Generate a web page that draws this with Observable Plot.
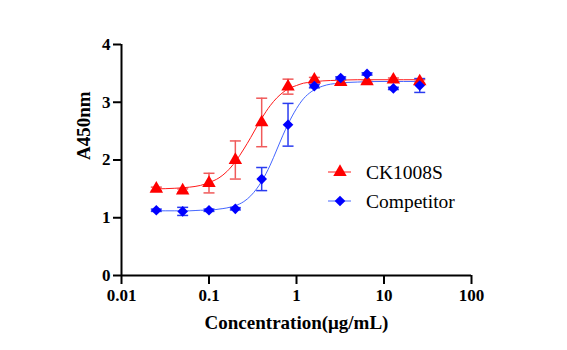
<!DOCTYPE html>
<html>
<head>
<meta charset="utf-8">
<script src="https://cdn.jsdelivr.net/npm/d3@7"></script>
<script src="https://cdn.jsdelivr.net/npm/@observablehq/plot@0.6"></script>
<style>
  html, body { margin: 0; padding: 0; background: #fff; }
  #chart svg text, #chart svg { font-family: "Liberation Serif", "Times New Roman", serif !important; }
</style>
</head>
<body>
<div id="chart"></div>
<script>
// Data
const conc = [0.025, 0.05, 0.1, 0.2, 0.4, 0.8, 1.6, 3.2, 6.4, 12.8, 25.6];
const ck = [1.50, 1.47, 1.60, 2.00, 2.65, 3.27, 3.39, 3.35, 3.36, 3.39, 3.36];
const ckErr = [0.03, 0.03, 0.17, 0.33, 0.42, 0.13, 0.04, 0.03, 0.03, 0.03, 0.03];
const comp = [1.13, 1.11, 1.13, 1.155, 1.67, 2.61, 3.28, 3.42, 3.49, 3.24, 3.29];
const compErr = [0.02, 0.07, 0.02, 0.02, 0.20, 0.37, 0.03, 0.02, 0.02, 0.02, 0.12];

// Fitted curves
const curveX = [0.025, 0.04, 0.06, 0.08, 0.1, 0.13, 0.16, 0.2, 0.25, 0.3, 0.35, 0.4, 0.5, 0.6, 0.7, 0.8, 1.0, 1.2, 1.5, 2, 3, 5, 10, 28];
const ckFit = [1.50, 1.51, 1.53, 1.56, 1.61, 1.69, 1.80, 1.97, 2.19, 2.39, 2.57, 2.72, 2.94, 3.08, 3.17, 3.23, 3.29, 3.33, 3.35, 3.37, 3.38, 3.39, 3.39, 3.39];
const compFit = [1.12, 1.12, 1.12, 1.13, 1.13, 1.15, 1.17, 1.21, 1.28, 1.38, 1.50, 1.63, 1.91, 2.19, 2.43, 2.62, 2.89, 3.06, 3.19, 3.28, 3.33, 3.35, 3.36, 3.36];

const xTicks = [0.01, 0.1, 1, 10, 100];
const yTicks = [0, 1, 2, 3, 4];
const seriesNames = ["CK1008S", "Competitor"];

const RED = "#ff0000", RED_ERR = "#f05a5a", RED_LINE = "#ff1a1a";
const BLUE = "#0000ff", BLUE_ERR = "#2a3cf0", BLUE_LINE = "#4466ff";

const data = conc.map((c, i) => ({c, ck: ck[i], ckE: ckErr[i], comp: comp[i], compE: compErr[i]}));
const fit = curveX.map((c, i) => ({c, ck: ckFit[i], comp: compFit[i]}));

const cap = {
  draw(context, size) {
    const w = Math.sqrt(size / Math.PI);
    context.moveTo(-w, 0);
    context.lineTo(w, 0);
  }
};

const serif = "Liberation Serif, Times New Roman, serif";

const svg = Plot.plot({
  width: 567,
  height: 350,
  marginLeft: 121,
  marginRight: 96,
  marginTop: 44,
  marginBottom: 75,
  style: {background: "#fff", color: "#000"},
  x: {type: "log", domain: [0.01, 100]},
  y: {domain: [0, 4]},
  marks: [
    Plot.axisY({ticks: yTicks, tickSize: 8, tickPadding: 3, strokeWidth: 2, stroke: "#000", fill: "#000", label: null,
      tickFormat: d => d.toString(), fontFamily: serif, fontSize: 17, fontWeight: "bold"}),
    Plot.axisX({ticks: xTicks, tickSize: 9, tickPadding: 4, strokeWidth: 2, stroke: "#000", fill: "#000", label: null,
      tickFormat: d => d.toString(), fontFamily: serif, fontSize: 17, fontWeight: "bold"}),
    Plot.ruleX([0.01], {y1: 0, y2: 4, strokeWidth: 2, stroke: "#000"}),
    Plot.ruleY([0], {x1: 0.01, x2: 100, strokeWidth: 2, stroke: "#000"}),
    Plot.text(["Concentration(μg/mL)"], {frameAnchor: "bottom", dy: 53, fontFamily: serif, fontSize: 19, fontWeight: "bold", fill: "#000"}),
    Plot.text(["A450nm"], {frameAnchor: "left", dx: -38, rotate: -90, fontFamily: serif, fontSize: 19, fontWeight: "bold", fill: "#000"}),
    // fitted curves
    Plot.line(fit, {x: "c", y: "ck", stroke: RED_LINE, strokeWidth: 1, curve: "monotone-x"}),
    Plot.line(fit, {x: "c", y: "comp", stroke: BLUE_LINE, strokeWidth: 1, curve: "monotone-x"}),
    // error bars
    Plot.ruleX(data, {x: "c", y1: d => d.ck - d.ckE, y2: d => d.ck + d.ckE, stroke: RED_ERR, strokeWidth: 1.5}),
    Plot.dot(data, {x: "c", y: d => d.ck + d.ckE, symbol: cap, r: 5.5, stroke: RED_ERR, strokeWidth: 1.5, fill: "none"}),
    Plot.dot(data, {x: "c", y: d => d.ck - d.ckE, symbol: cap, r: 5.5, stroke: RED_ERR, strokeWidth: 1.5, fill: "none"}),
    Plot.ruleX(data, {x: "c", y1: d => d.comp - d.compE, y2: d => d.comp + d.compE, stroke: BLUE_ERR, strokeWidth: 1.5}),
    Plot.dot(data, {x: "c", y: d => d.comp + d.compE, symbol: cap, r: 5.5, stroke: BLUE_ERR, strokeWidth: 1.5, fill: "none"}),
    Plot.dot(data, {x: "c", y: d => d.comp - d.compE, symbol: cap, r: 5.5, stroke: BLUE_ERR, strokeWidth: 1.5, fill: "none"}),
    // markers
    Plot.dot(data, {x: "c", y: "ck", symbol: "triangle", r: 5, fill: RED, stroke: "none"}),
    Plot.dot(data, {x: "c", y: "comp", symbol: "diamond2", r: 4.8, fill: BLUE, stroke: "none"})
  ]
});

// Legend drawn inside the plot area
const leg = d3.select(svg).append("g").attr("class", "legend");
const items = [
  {name: seriesNames[0], line: RED_LINE, fill: RED, sym: d3.symbolTriangle, size: Math.PI * 25},
  {name: seriesNames[1], line: BLUE_LINE, fill: BLUE, sym: d3.symbolDiamond2, size: Math.PI * 4.8 * 4.8}
];
items.forEach((it, i) => {
  const g = leg.append("g").attr("transform", `translate(340,${172 + i * 29})`);
  g.append("line").attr("x1", -12).attr("x2", 11).attr("stroke", it.line).attr("stroke-width", 1);
  g.append("path").attr("d", d3.symbol(it.sym, it.size)()).attr("fill", it.fill);
  g.append("text").attr("x", 26).attr("dy", "0.34em").attr("text-anchor", "start")
    .attr("font-family", serif).attr("font-size", 19.5).attr("font-weight", "normal")
    .attr("fill", "#000").text(it.name);
});

document.getElementById("chart").appendChild(svg);
</script>
</body>
</html>
